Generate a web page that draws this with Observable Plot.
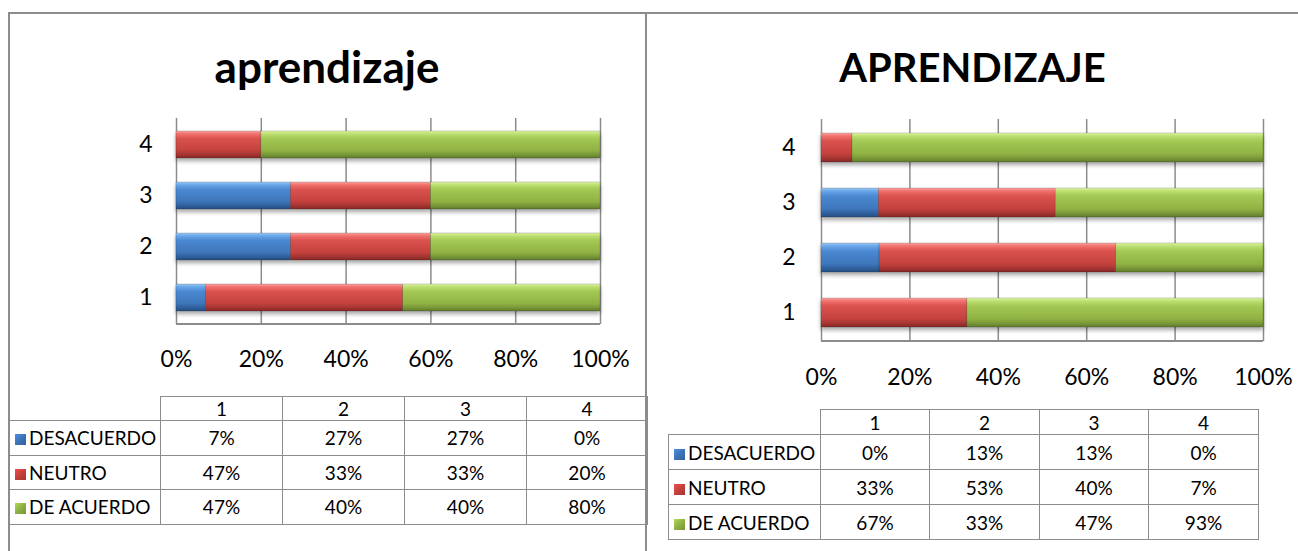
<!DOCTYPE html>
<html>
<head>
<meta charset="utf-8">
<script src="https://cdn.jsdelivr.net/npm/d3@7"></script>
<script src="https://cdn.jsdelivr.net/npm/@observablehq/plot@0.6"></script>
<style>
  html, body { margin: 0; padding: 0; background: #fff; }
  body { width: 1298px; height: 551px; position: relative; overflow: hidden; font-family: Lato, "Open Sans", sans-serif; }
  .line { position: absolute; background: #8c8c8c; }
  .title { position: absolute; text-align: center; font-weight: bold; color: #000; line-height: 1; }
  .chart { position: absolute; }
  table.data { position: absolute; border-collapse: collapse; font-size: 19px; color: #000; table-layout: fixed; }
  table.data td { border: 1px solid #8c8c8c; text-align: center; padding: 0; line-height: 1; }
  table.data td.lab { text-align: left; padding-left: 5px; white-space: nowrap; }
  table.data td.blank { border-top: none; border-left: none; }
  .key { display: inline-block; width: 11px; height: 11px; margin-right: 3px; vertical-align: 0px; }
</style>
</head>
<body>
<script>
// ---------- data ----------
const categories = ["1", "2", "3", "4"];
const series = ["DESACUERDO", "NEUTRO", "DE ACUERDO"];
const xTicks = [0, 0.2, 0.4, 0.6, 0.8, 1];

const leftTitle = "aprendizaje";
const leftDesacuerdo = [7, 27, 27, 0];
const leftNeutro = [47, 33, 33, 20];
const leftDeAcuerdo = [47, 40, 40, 80];

const rightTitle = "APRENDIZAJE";
const rightDesacuerdo = [0, 13, 13, 0];
const rightNeutro = [33, 53, 40, 7];
const rightDeAcuerdo = [67, 33, 47, 93];

const seriesColors = {
  "DESACUERDO": ["#9ccaf5", "#6aa8ea", "#4a88d2", "#3e76ba", "#2f5f9c", "#244d80"],
  "NEUTRO": ["#fba6a2", "#f2726e", "#da524e", "#c4413e", "#a33431", "#842826"],
  "DE ACUERDO": ["#e0f5a6", "#bde072", "#a3c853", "#90b244", "#779637", "#5f7a2b"]
};
const keyColors = { "DESACUERDO": "#3d74b8", "NEUTRO": "#c4403d", "DE ACUERDO": "#8fb143" };

function buildRows(cols) {
  const rows = [];
  series.forEach((s, si) => {
    categories.forEach((c, ci) => rows.push({ cat: c, series: s, value: cols[si][ci] }));
  });
  return rows;
}

const FONT = "Lato, 'Open Sans', sans-serif";
const svgns = "http://www.w3.org/2000/svg";

function addLine(x, y, w, h) {
  const d = document.createElement("div");
  d.className = "line";
  Object.assign(d.style, { left: x + "px", top: y + "px", width: w + "px", height: h + "px" });
  document.body.appendChild(d);
}

function drawChart(opts) {
  const { id, cols, left, top, width, height, mL, mR, mT, mB, padY, padX, pIn, title, titleTop, titleSize, panelLeft, panelWidth } = opts;
  const data = buildRows(cols);
  const gid = s => `${id}-g-${series.indexOf(s)}`;

  const t = document.createElement("div");
  t.className = "title";
  t.textContent = title;
  Object.assign(t.style, { left: panelLeft + "px", width: panelWidth + "px", top: titleTop + "px", fontSize: titleSize + "px" });
  document.body.appendChild(t);

  const bottomLine = (index, scales, values, dims) => {
    const l = document.createElementNS(svgns, "line");
    const y = dims.height - dims.marginBottom;
    l.setAttribute("x1", dims.marginLeft);
    l.setAttribute("x2", dims.width - dims.marginRight);
    l.setAttribute("y1", y);
    l.setAttribute("y2", y);
    l.setAttribute("stroke", "#8c8c8c");
    l.setAttribute("stroke-width", 2);
    return l;
  };

  const svg = Plot.plot({
    width, height,
    marginLeft: mL, marginRight: mR, marginTop: mT, marginBottom: mB,
    style: { fontFamily: FONT, fontSize: "22px", color: "#000", background: "transparent", overflow: "visible" },
    x: { domain: [0, 1], label: null },
    y: { domain: categories.slice().reverse(), paddingInner: pIn, paddingOuter: pIn / 2, label: null },
    color: { domain: series, range: series.map(s => `url(#${gid(s)})`) },
    marks: [
      Plot.ruleX(xTicks, { stroke: "#8c8c8c", strokeWidth: 1.5 }),
      bottomLine,
      Plot.barX(data, Plot.stackX({ offset: "normalize", x: "value", y: "cat", fill: "series", z: "series", stroke: "rgba(0,0,0,0.25)", strokeWidth: 0.6, inset: 0 })),
      Plot.axisX({ ticks: xTicks, tickFormat: d3.format(".0%"), tickSize: 0, tickPadding: padX, fontSize: 23, label: null }),
      Plot.axisY({ tickSize: 0, tickPadding: padY, fontSize: 23, label: null })
    ]
  });

  const defs = d3.select(svg).insert("defs", ":first-child");
  const offs = [0, 0.1, 0.28, 0.72, 0.88, 1];
  series.forEach(s => {
    const g = defs.append("linearGradient").attr("id", gid(s)).attr("x1", 0).attr("y1", 0).attr("x2", 0).attr("y2", 1);
    seriesColors[s].forEach((c, i) => g.append("stop").attr("offset", offs[i]).attr("stop-color", c));
  });
  const barG = svg.querySelector('g[aria-label="bar"]');
  if (barG) barG.style.filter = "drop-shadow(0px 3px 2px rgba(0,0,0,0.35))";

  svg.classList.add("chart");
  Object.assign(svg.style, { position: "absolute", left: left + "px", top: top + "px" });
  document.body.appendChild(svg);
}

function drawTable(opts) {
  const { cols, left, top, widths, headH, rowH } = opts;
  const tbl = document.createElement("table");
  tbl.className = "data";
  Object.assign(tbl.style, { left: left + "px", top: top + "px" });
  const cg = document.createElement("colgroup");
  widths.forEach(w => { const c = document.createElement("col"); c.style.width = w + "px"; cg.appendChild(c); });
  tbl.appendChild(cg);
  const hr = document.createElement("tr");
  hr.style.height = headH + "px";
  const blank = document.createElement("td");
  blank.className = "blank";
  hr.appendChild(blank);
  categories.forEach(c => { const td = document.createElement("td"); td.textContent = c; hr.appendChild(td); });
  tbl.appendChild(hr);
  series.forEach((s, si) => {
    const tr = document.createElement("tr");
    tr.style.height = rowH + "px";
    const lab = document.createElement("td");
    lab.className = "lab";
    const key = document.createElement("span");
    key.className = "key";
    const kc = keyColors[s];
    key.style.background = `linear-gradient(135deg, ${d3.color(kc).brighter(0.6)} 0%, ${kc} 50%, ${d3.color(kc).darker(0.5)} 100%)`;
    lab.appendChild(key);
    lab.appendChild(document.createTextNode(s));
    tr.appendChild(lab);
    cols[si].forEach(v => { const td = document.createElement("td"); td.textContent = v + "%"; tr.appendChild(td); });
    tbl.appendChild(tr);
  });
  document.body.appendChild(tbl);
}

// panel borders
addLine(8, 12, 1290, 2);
addLine(8, 12, 2, 539);
addLine(645, 12, 2, 539);

drawChart({ id: "L", cols: [leftDesacuerdo, leftNeutro, leftDeAcuerdo], left: 8, top: 100, width: 638, height: 280,
  mL: 168, mR: 46, mT: 18, mB: 56, padY: 24, padX: 26, pIn: 0.476, title: leftTitle, titleTop: 44, titleSize: 44, panelLeft: 8, panelWidth: 638 });
drawChart({ id: "R", cols: [rightDesacuerdo, rightNeutro, rightDeAcuerdo], left: 647, top: 100, width: 651, height: 300,
  mL: 174, mR: 35, mT: 19, mB: 59, padY: 26, padX: 27, pIn: 0.468, title: rightTitle, titleTop: 47, titleSize: 40, panelLeft: 647, panelWidth: 651 });

drawTable({ cols: [leftDesacuerdo, leftNeutro, leftDeAcuerdo], left: 9, top: 396, widths: [151, 122, 122, 122, 121], headH: 24, rowH: 34.5 });
drawTable({ cols: [rightDesacuerdo, rightNeutro, rightDeAcuerdo], left: 668, top: 409, widths: [152, 109, 110, 109, 110], headH: 25, rowH: 35 });
</script>
</body>
</html>
